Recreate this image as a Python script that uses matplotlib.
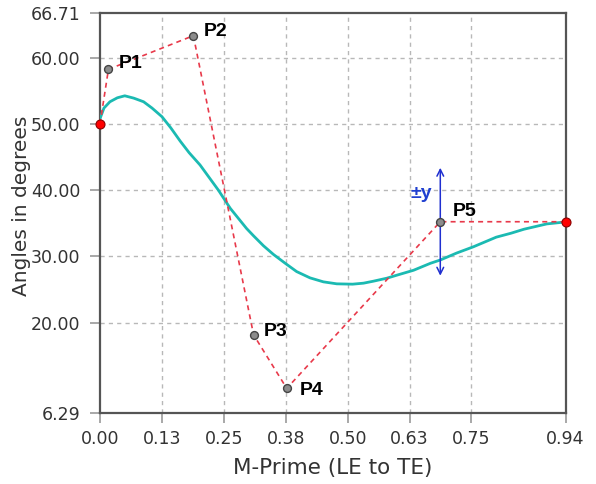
import matplotlib
matplotlib.use("Agg")
import matplotlib.pyplot as plt

# control polygon (LE point, P1..P5, TE point)
ctrl_x = [0.0, 0.017, 0.1885, 0.31, 0.377, 0.687, 0.94]
ctrl_y = [50.0, 58.25, 63.33, 18.16, 10.06, 35.23, 35.23]
ctrl_names = ["", "P1", "P2", "P3", "P4", "P5", ""]

# resulting angle distribution
curve_x = [0.0, 0.008, 0.02, 0.035, 0.05, 0.068, 0.088, 0.105, 0.125, 0.143,
           0.162, 0.18, 0.202, 0.22, 0.239, 0.263, 0.296, 0.31, 0.33, 0.35,
           0.374, 0.397, 0.424, 0.451, 0.478, 0.51, 0.532, 0.552, 0.579, 0.599,
           0.633, 0.667, 0.687, 0.72, 0.754, 0.80, 0.83, 0.856, 0.902, 0.94]
curve_y = [50.8, 52.4, 53.35, 53.95, 54.25, 53.9, 53.35, 52.4, 51.1, 49.4,
           47.4, 45.65, 43.8, 41.95, 40.0, 37.25, 34.2, 33.1, 31.6, 30.3,
           28.95, 27.7, 26.75, 26.15, 25.85, 25.8, 25.95, 26.25, 26.7, 27.15,
           27.9, 28.95, 29.45, 30.5, 31.45, 32.9, 33.5, 34.1, 34.9, 35.2]

x_ticks = [0.0, 0.125, 0.25, 0.375, 0.5, 0.625, 0.75, 0.94]
x_labels = ["0.00", "0.13", "0.25", "0.38", "0.50", "0.63", "0.75", "0.94"]
y_ticks = [6.29, 20, 30, 40, 50, 60, 66.71]
y_labels = ["6.29", "20.00", "30.00", "40.00", "50.00", "60.00", "66.71"]

# label offsets in pixels from each control point
label_offsets = [None, (10, 6), (10, 4), (10, 3), (13, -2), (12, 10), None]
dy = 8.15

fig = plt.figure(figsize=(5.96, 4.84), dpi=100)
ax = fig.add_axes([0.1678, 0.146, 0.7812, 0.8265])

ax.set_xlim(0, 0.94)
ax.set_ylim(6.29, 66.71)

ax.plot(curve_x, curve_y, color="#1bbab2", lw=2.0, zorder=3,
        solid_joinstyle="round", solid_capstyle="round")
ax.plot(ctrl_x, ctrl_y, color="#e8394a", lw=1.2, ls=(0, (3, 2.5)), zorder=4)

ax.scatter(ctrl_x[1:-1], ctrl_y[1:-1], s=32, color="#8c8c8c", edgecolor="#444444",
           linewidth=1.0, zorder=6)
ax.scatter([ctrl_x[0], ctrl_x[-1]], [ctrl_y[0], ctrl_y[-1]], s=42, color="#ff0000",
           edgecolor="#8b0000", linewidth=0.8, zorder=7, clip_on=False)

for x, y, name, off in zip(ctrl_x, ctrl_y, ctrl_names, label_offsets):
    if not name:
        continue
    ax.annotate(name, (x, y), xytext=off, textcoords="offset pixels",
                fontsize=14, fontweight="bold", family="Liberation Sans",
                color="black", va="center", ha="left", zorder=8)

# +/- y arrow on P5
p5x, p5y = ctrl_x[5], ctrl_y[5]
ax.annotate("", xy=(p5x, p5y + dy), xytext=(p5x, p5y - dy),
            arrowprops=dict(arrowstyle="<->", color="#1f2fd0", lw=1.1,
                            shrinkA=0, shrinkB=0, mutation_scale=12), zorder=5)
ax.text(p5x - 0.016, p5y + 4.3, "±y", color="#1f3fd0", fontsize=14,
        fontweight="bold", family="Liberation Sans", ha="right", va="center")

ax.set_xticks(x_ticks)
ax.set_xticklabels(x_labels)
ax.set_yticks(y_ticks)
ax.set_yticklabels(y_labels)

grid_y = [20, 30, 40, 50, 60]
grid_x = [0.125, 0.25, 0.375, 0.5, 0.625, 0.75]
for gy in grid_y:
    ax.axhline(gy, color="#b8b8b8", lw=1.0, ls=(0, (3, 3)), zorder=1)
for gx in grid_x:
    ax.axvline(gx, color="#b8b8b8", lw=1.0, ls=(0, (3, 3)), zorder=1)

ax.tick_params(axis="both", direction="out", length=7, width=1.2, color="#999999",
               labelsize=12.5, labelcolor="#333333")
ax.tick_params(axis="y", pad=7)
ax.tick_params(axis="x", pad=5)

for sp in ax.spines.values():
    sp.set_color("#555555")
    sp.set_linewidth(1.6)

ax.set_xlabel("M-Prime (LE to TE)", fontsize=15.5, color="#333333", labelpad=7)
ax.set_ylabel("Angles in degrees", fontsize=14.5, color="#333333")
ax.yaxis.set_label_coords(-0.148, 0.52)

fig.savefig("out.png", dpi=100)
